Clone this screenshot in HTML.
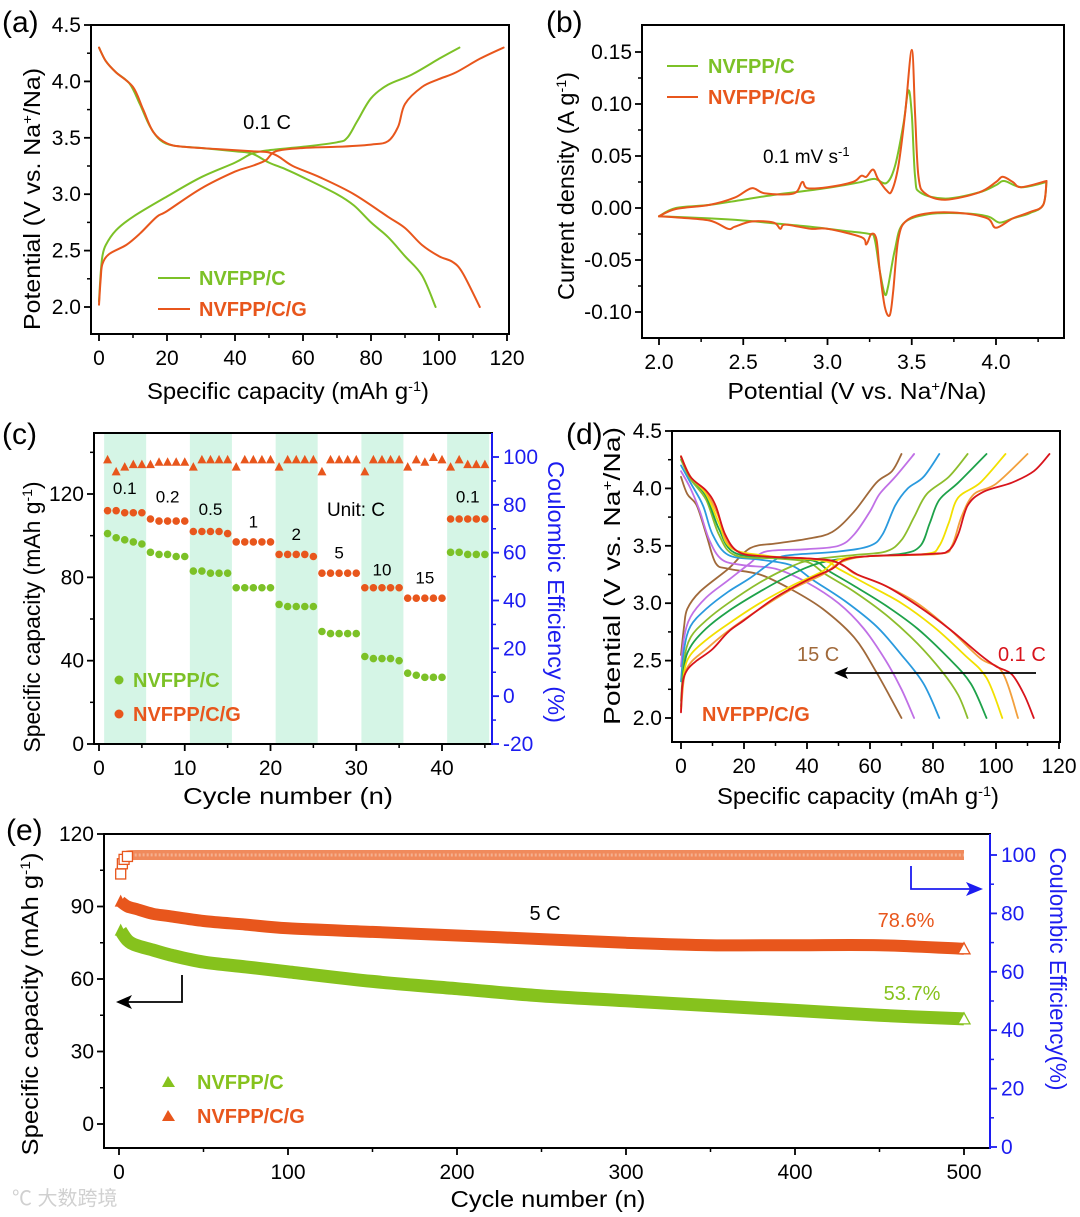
<!DOCTYPE html>
<html><head><meta charset="utf-8"><style>
html,body{margin:0;padding:0;background:#fff;}
svg{display:block;font-family:"Liberation Sans","Noto Sans CJK SC",sans-serif;}
</style></head><body>
<svg id="fig" width="1080" height="1217" viewBox="0 0 1080 1217" xmlns="http://www.w3.org/2000/svg"></svg>
<script>
// ---------- Panel (a) data ----------
const aGreenCharge=[[0,2.05],[0.5,2.3],[1,2.45],[2,2.55],[5,2.68],[10,2.8],[20,2.98],[30,3.15],[40,3.28],[45,3.36],[50,3.39],[60,3.42],[70,3.46],[73,3.5],[76,3.65],[80,3.85],[85,3.97],[92,4.06],[100,4.2],[106,4.3]];
const aGreenDis=[[0,4.3],[2,4.18],[5,4.08],[9,3.98],[12,3.8],[15,3.6],[18,3.48],[22,3.43],[30,3.41],[40,3.38],[45,3.36],[50,3.28],[55,3.22],[60,3.15],[70,3.0],[75,2.9],[80,2.75],[85,2.62],[90,2.45],[95,2.28],[99,2.0]];
const aOrangeCharge=[[0,2.02],[0.5,2.25],[1,2.38],[3,2.47],[8,2.55],[12,2.65],[17,2.8],[20,2.85],[30,3.05],[40,3.2],[45,3.25],[49,3.3],[52,3.38],[60,3.41],[70,3.42],[80,3.44],[85,3.47],[88,3.6],[90,3.8],[95,3.95],[100,4.02],[105,4.08],[112,4.2],[119,4.3]];
const aOrangeDis=[[0,4.3],[2,4.18],[5,4.08],[10,3.95],[13,3.75],[16,3.55],[20,3.45],[25,3.42],[35,3.4],[45,3.38],[50,3.37],[53,3.33],[57,3.25],[65,3.15],[75,3.0],[85,2.8],[90,2.7],[95,2.55],[100,2.45],[104,2.4],[107,2.3],[112,2.0]];
// ---------- Panel (b) data ----------
const bGreenUp=[[2.0,-0.008],[2.1,0.0],[2.3,0.003],[2.5,0.008],[2.7,0.013],[2.9,0.017],[3.1,0.022],[3.2,0.025],[3.28,0.028],[3.35,0.024],[3.4,0.04],[3.45,0.08],[3.48,0.113],[3.5,0.09],[3.52,0.03],[3.55,0.015],[3.7,0.009],[3.9,0.015],[4.0,0.022],[4.05,0.026],[4.15,0.02],[4.3,0.025]];
const bGreenDown=[[4.3,0.025],[4.28,0.003],[4.2,-0.005],[4.1,-0.01],[4.02,-0.014],[3.95,-0.008],[3.8,-0.005],[3.6,-0.006],[3.45,-0.015],[3.4,-0.04],[3.36,-0.075],[3.34,-0.083],[3.31,-0.06],[3.28,-0.03],[3.25,-0.025],[3.1,-0.022],[2.9,-0.018],[2.7,-0.015],[2.5,-0.012],[2.3,-0.01],[2.0,-0.008]];
const bOrangeUp=[[2.0,-0.008],[2.1,-0.001],[2.3,0.003],[2.45,0.01],[2.55,0.019],[2.63,0.014],[2.8,0.014],[2.85,0.025],[2.88,0.019],[3.0,0.02],[3.15,0.025],[3.2,0.031],[3.23,0.03],[3.27,0.037],[3.3,0.028],[3.35,0.017],[3.38,0.016],[3.42,0.04],[3.46,0.09],[3.5,0.152],[3.52,0.09],[3.54,0.03],[3.58,0.014],[3.7,0.008],[3.9,0.015],[4.0,0.025],[4.04,0.03],[4.1,0.025],[4.15,0.02],[4.3,0.026]];
const bOrangeDown=[[4.3,0.026],[4.28,0.003],[4.2,-0.004],[4.1,-0.01],[4.0,-0.019],[3.95,-0.01],[3.8,-0.005],[3.6,-0.005],[3.47,-0.012],[3.42,-0.03],[3.39,-0.08],[3.37,-0.103],[3.34,-0.095],[3.31,-0.06],[3.29,-0.03],[3.26,-0.025],[3.23,-0.035],[3.2,-0.028],[3.0,-0.02],[2.9,-0.02],[2.75,-0.016],[2.72,-0.02],[2.68,-0.014],[2.55,-0.013],[2.45,-0.018],[2.41,-0.02],[2.3,-0.012],[2.1,-0.009],[2.0,-0.008]];
// ---------- Panel (c) data ----------
const cCycles=[1,2,3,4,5,6,7,8,9,10,11,12,13,14,15,16,17,18,19,20,21,22,23,24,25,26,27,28,29,30,31,32,33,34,35,36,37,38,39,40,41,42,43,44,45];
const cGreen=[101,99,98,97,96,92,91,91,90,90,83,83,82,82,82,75,75,75,75,75,67,66,66,66,66,54,53,53,53,53,42,41,41,41,40,34,33,32,32,32,92,92,91,91,91];
const cOrange=[112,112,111,111,111,108,107,107,107,107,102,102,102,102,101,97,97,97,97,97,91,91,91,91,90,82,82,82,82,82,75,75,75,75,75,70,70,70,70,70,108,108,108,108,108];
const cCE=[99,94,96,97,97,97,98,98,98,98,96,99,99,99,99,96,99,99,99,99,96,99,99,99,99,94,99,99,99,99,94,99,99,99,99,96,99,98,100,99,96,99,97,97,97];
const cRateLabels=["0.1","0.2","0.5","1","2","5","10","15","0.1"];
const cRateCycles=[3,8,13,18,23,28,33,38,43];
const cRateValues=[120,116,110,104,98,89,81,77,116];
// ---------- Panel (d) data ----------
const dRates=["0.1","0.2","0.5","1","2","5","10","15"];
const dCharge=[
[[0,2.05],[0.5,2.3],[2,2.42],[5,2.5],[10,2.6],[15,2.75],[20,2.85],[30,3.05],[40,3.2],[48,3.3],[52,3.38],[60,3.41],[80,3.43],[85,3.46],[88,3.6],[91,3.85],[96,3.97],[105,4.05],[112,4.15],[117,4.3]],
[[0,2.06],[1,2.35],[3,2.48],[8,2.6],[15,2.76],[25,2.95],[35,3.12],[45,3.25],[51,3.36],[60,3.41],[82,3.43],[86,3.5],[89,3.75],[93,3.95],[100,4.04],[110,4.3]],
[[0,2.08],[1,2.4],[3,2.55],[8,2.68],[15,2.82],[25,3.0],[35,3.15],[45,3.28],[50,3.38],[60,3.41],[78,3.43],[82,3.5],[85,3.7],[88,3.92],[95,4.05],[103,4.3]],
[[0,2.1],[1,2.45],[3,2.62],[8,2.78],[15,2.93],[25,3.1],[35,3.25],[44,3.35],[55,3.4],[70,3.43],[76,3.5],[79,3.7],[82,3.9],[88,4.05],[97,4.3]],
[[0,2.15],[1,2.5],[3,2.7],[8,2.85],[15,3.0],[25,3.18],[35,3.32],[42,3.38],[55,3.42],[65,3.45],[70,3.55],[74,3.75],[78,3.95],[85,4.1],[91,4.3]],
[[0,2.32],[1,2.6],[3,2.8],[8,2.95],[15,3.1],[22,3.22],[30,3.38],[35,3.42],[50,3.45],[60,3.5],[64,3.6],[68,3.85],[72,4.0],[77,4.1],[82,4.3]],
[[0,2.45],[1,2.7],[3,2.88],[8,3.05],[15,3.2],[22,3.35],[27,3.45],[40,3.47],[50,3.5],[55,3.6],[60,3.8],[63,3.95],[68,4.1],[74,4.3]],
[[0,2.55],[1,2.8],[2,2.95],[6,3.1],[15,3.3],[22,3.48],[30,3.52],[40,3.56],[48,3.62],[55,3.8],[62,4.05],[67,4.15],[70,4.3]]];
const dDischarge=[
[[0,4.28],[3,4.1],[8,3.98],[11,3.85],[14,3.6],[18,3.45],[25,3.41],[40,3.39],[48,3.37],[52,3.32],[56,3.25],[65,3.15],[75,2.98],[85,2.78],[95,2.55],[100,2.45],[105,2.38],[109,2.2],[112,2.0]],
[[0,4.28],[3,4.1],[8,3.97],[12,3.75],[15,3.52],[22,3.42],[40,3.39],[50,3.35],[55,3.26],[65,3.15],[75,3.0],[85,2.78],[95,2.52],[102,2.4],[107,2.0]],
[[0,4.28],[3,4.1],[8,3.95],[12,3.7],[16,3.48],[28,3.41],[45,3.37],[50,3.3],[58,3.18],[70,3.0],[80,2.8],[90,2.55],[97,2.35],[102,2.0]],
[[0,4.27],[3,4.1],[8,3.93],[12,3.65],[17,3.44],[30,3.4],[42,3.37],[47,3.28],[55,3.15],[65,2.98],[75,2.78],[85,2.52],[92,2.3],[97,2.0]],
[[0,4.25],[3,4.08],[8,3.9],[12,3.6],[17,3.42],[30,3.39],[40,3.36],[46,3.25],[55,3.1],[65,2.9],[75,2.65],[83,2.4],[88,2.2],[91,2.0]],
[[0,4.2],[3,4.05],[7,3.85],[10,3.6],[15,3.42],[25,3.38],[35,3.33],[42,3.2],[52,3.02],[62,2.8],[70,2.55],[77,2.3],[82,2.0]],
[[0,4.15],[3,4.0],[6,3.8],[9,3.55],[13,3.38],[20,3.33],[30,3.3],[40,3.18],[50,3.0],[58,2.78],[65,2.5],[70,2.25],[74,2.0]],
[[0,4.1],[2,3.95],[5,3.85],[8,3.6],[11,3.35],[15,3.3],[25,3.25],[35,3.12],[45,2.95],[55,2.7],[62,2.4],[70,2.0]]];
const dColors=["#d8141c","#f2a03c","#f2e000","#1ea24a","#8dbd2c","#2a9ade","#c070e6","#a0693a"];
// ---------- Panel (e) data ----------
const eCycles=[1,5,10,20,30,50,75,100,150,200,250,300,350,400,450,500];
const eGreen=[80,76,74,72,70,67,65,63,59,56,53,51,49,47,45,43.5];
const eOrange=[92,90,89,87,86,84,82.5,81,79.5,78,76.5,75,74,74,74,72.5];
const eCECycles=[1,2,3,5,10,50,100,200,300,400,500];
const eCE=[93.5,97,98.5,99.5,100,100,100,100,100,100,100];

const NS="http://www.w3.org/2000/svg";
const svg=document.getElementById('fig');
function el(tag,a,name,inter){
  const e=document.createElementNS(NS,tag);
  for(const k in a) e.setAttribute(k,a[k]);
  
  
  svg.appendChild(e);return e;
}
function lin(d0,d1,r0,r1){return v=>r0+(v-d0)*(r1-r0)/(d1-d0);}
function txt(x,y,s,o,name){
  const e=el('text',{x:x,y:y,'font-size':o.fs||20,fill:o.fill||'#000','text-anchor':o.anchor||'start','font-weight':o.bold?'bold':'normal'},name);
  if(o.rot) e.setAttribute('transform','rotate('+o.rot+' '+x+' '+y+')');
  if(o.len){e.setAttribute('textLength',o.len);e.setAttribute('lengthAdjust','spacingAndGlyphs');}
  e.innerHTML=s;return e;
}
function smooth(pts){
  let d='M'+pts[0][0].toFixed(1)+','+pts[0][1].toFixed(1);
  for(let i=0;i<pts.length-1;i++){
    const p0=pts[i-1]||pts[i],p1=pts[i],p2=pts[i+1],p3=pts[i+2]||p2;
    const c1=[p1[0]+(p2[0]-p0[0])/6,p1[1]+(p2[1]-p0[1])/6],c2=[p2[0]-(p3[0]-p1[0])/6,p2[1]-(p3[1]-p1[1])/6];
    d+=' C'+c1[0].toFixed(1)+','+c1[1].toFixed(1)+' '+c2[0].toFixed(1)+','+c2[1].toFixed(1)+' '+p2[0].toFixed(1)+','+p2[1].toFixed(1);
  }
  return d;
}
function curve(data,sx,sy,color,w,name){
  return el('path',{d:smooth(data.map(p=>[sx(p[0]),sy(p[1])])),fill:'none',stroke:color,'stroke-width':w,'stroke-linejoin':'round','stroke-linecap':'round'},name);
}
function frame(x0,y0,x1,y1,name){el('rect',{x:x0,y:y0,width:x1-x0,height:y1-y0,fill:'none',stroke:'#000','stroke-width':2},name);}
function xAxis(sx,yb,major,minor,labels,name){
  minor.forEach(v=>el('line',{x1:sx(v),y1:yb,x2:sx(v),y2:yb+4,stroke:'#000','stroke-width':1.5},name+'-minor-tick'));
  major.forEach((v,i)=>{el('line',{x1:sx(v),y1:yb,x2:sx(v),y2:yb+7,stroke:'#000','stroke-width':1.8},name+'-tick');
    txt(sx(v),yb+31,labels[i],{anchor:'middle',fs:21},name+'-tick-label');});
}
function yAxis(sy,xl,major,minor,labels,name,color,right){
  const c=color||'#000',s=right?1:-1;
  minor.forEach(v=>el('line',{x1:xl,y1:sy(v),x2:xl+s*4,y2:sy(v),stroke:c,'stroke-width':1.5},name+'-minor-tick'));
  major.forEach((v,i)=>{el('line',{x1:xl,y1:sy(v),x2:xl+s*7,y2:sy(v),stroke:c,'stroke-width':1.8},name+'-tick');
    txt(right?xl+11:xl-10,sy(v)+7,labels[i],{anchor:right?'start':'end',fs:21,fill:c},name+'-tick-label');});
}
function rng(a,b,s){const r=[];for(let v=a;v<=b+1e-9;v+=s)r.push(+v.toFixed(4));return r;}
const GREEN='#7cc127',ORANGE='#e8561c',BLUE='#1c1cf0';

// ================= Panel (a) =================
{
const sx=lin(0,120,99,507),sy=lin(2,4.5,307,25);
curve(aGreenCharge,sx,sy,GREEN,2,'a-nvfpp-c-charge');
curve(aGreenDis,sx,sy,GREEN,2,'a-nvfpp-c-discharge');
curve(aOrangeCharge,sx,sy,ORANGE,2,'a-nvfpp-c-g-charge');
curve(aOrangeDis,sx,sy,ORANGE,2,'a-nvfpp-c-g-discharge');
frame(91,25,509,334,'a-plot-frame');
xAxis(sx,334,rng(0,120,20),rng(10,110,20),['0','20','40','60','80','100','120'],'a-x-axis');
yAxis(sy,91,rng(2,4.5,0.5),rng(2.25,4.25,0.5),['2.0','2.5','3.0','3.5','4.0','4.5'],'a-y-axis');
txt(2,32,'(a)',{fs:30},'panel-label-a');
txt(288,399,'Specific capacity (mAh g<tspan baseline-shift="super" font-size="14">-1</tspan>)',{anchor:'middle',fs:23,len:282},'a-x-axis-title');
txt(40,199,'Potential (V vs. Na<tspan baseline-shift="super" font-size="14">+</tspan>/Na)',{anchor:'middle',fs:23,rot:-90,len:262},'a-y-axis-title');
txt(267,129,'0.1 C',{anchor:'middle',fs:20},'a-rate-annotation');
el('line',{x1:158,y1:278,x2:190,y2:278,stroke:GREEN,'stroke-width':2},'a-legend-line-nvfpp-c');
txt(199,285,'NVFPP/C',{fs:20,bold:1,fill:GREEN},'a-legend-label-nvfpp-c');
el('line',{x1:158,y1:309,x2:190,y2:309,stroke:ORANGE,'stroke-width':2},'a-legend-line-nvfpp-c-g');
txt(199,316,'NVFPP/C/G',{fs:20,bold:1,fill:ORANGE},'a-legend-label-nvfpp-c-g');
}
// ================= Panel (b) =================
{
const sx=lin(2,4,659,996),sy=lin(-0.1,0.15,312,52);
curve(bGreenUp,sx,sy,GREEN,2,'b-nvfpp-c-anodic');
curve(bGreenDown,sx,sy,GREEN,2,'b-nvfpp-c-cathodic');
curve(bOrangeUp,sx,sy,ORANGE,2,'b-nvfpp-c-g-anodic');
curve(bOrangeDown,sx,sy,ORANGE,2,'b-nvfpp-c-g-cathodic');
frame(642,25,1064,338,'b-plot-frame');
xAxis(sx,338,rng(2,4,0.5),rng(2.25,4.25,0.25).filter((v,i)=>i%2==0),['2.0','2.5','3.0','3.5','4.0'],'b-x-axis');
yAxis(sy,642,rng(-0.1,0.15,0.05),rng(-0.075,0.125,0.05),['-0.10','-0.05','0.00','0.05','0.10','0.15'],'b-y-axis');
txt(546,32,'(b)',{fs:30},'panel-label-b');
txt(857,399,'Potential (V vs. Na<tspan baseline-shift="super" font-size="14">+</tspan>/Na)',{anchor:'middle',fs:23,len:259},'b-x-axis-title');
txt(574,186,'Current density (A g<tspan baseline-shift="super" font-size="14">-1</tspan>)',{anchor:'middle',fs:23,rot:-90,len:228},'b-y-axis-title');
txt(763,163,'0.1 mV s<tspan baseline-shift="super" font-size="13">-1</tspan>',{fs:19},'b-scan-rate-annotation');
el('line',{x1:667,y1:66,x2:698,y2:66,stroke:GREEN,'stroke-width':2},'b-legend-line-nvfpp-c');
txt(708,73,'NVFPP/C',{fs:20,bold:1,fill:GREEN},'b-legend-label-nvfpp-c');
el('line',{x1:667,y1:97,x2:698,y2:97,stroke:ORANGE,'stroke-width':2},'b-legend-line-nvfpp-c-g');
txt(708,104,'NVFPP/C/G',{fs:20,bold:1,fill:ORANGE},'b-legend-label-nvfpp-c-g');
}
// ================= Panel (c) =================
{
const sx=lin(0,40,99,442),syL=lin(0,120,744,494),syR=lin(-20,100,744,457);
[0,10,20,30,40].forEach(s=>{const x0=sx(s+0.6),x1=Math.min(sx(s+5.5),491);
  el('rect',{x:x0,y:434,width:x1-x0,height:309,fill:'#d5f5e6'},'c-rate-band');});
cCycles.forEach((c,i)=>{
  el('circle',{cx:sx(c),cy:syL(cGreen[i]),r:3.8,fill:GREEN},'c-nvfpp-c-point');
  el('circle',{cx:sx(c),cy:syL(cOrange[i]),r:3.8,fill:ORANGE},'c-nvfpp-c-g-point');
  const x=sx(c),y=syR(cCE[i]);
  el('polygon',{points:(x-4.5)+','+(y+4)+' '+(x+4.5)+','+(y+4)+' '+x+','+(y-4.5),fill:ORANGE},'c-coulombic-efficiency-point');
});
cRateLabels.forEach((l,i)=>txt(sx(cRateCycles[i]),syL(cRateValues[i]),l,{anchor:'middle',fs:17},'c-rate-label'));
txt(356,516,'Unit: C',{anchor:'middle',fs:19},'c-unit-label');
frame(94,433,492,744,'c-plot-frame');
el('line',{x1:492,y1:433,x2:492,y2:745,stroke:BLUE,'stroke-width':2},'c-right-axis-line');
xAxis(sx,744,rng(0,40,10),rng(5,45,10),['0','10','20','30','40'],'c-x-axis');
yAxis(syL,94,rng(0,120,40),rng(20,140,40),['0','40','80','120'],'c-left-y-axis');
yAxis(syR,492,rng(-20,100,20),rng(-10,90,20),['-20','0','20','40','60','80','100'],'c-right-y-axis',BLUE,true);
txt(2,444,'(c)',{fs:30},'panel-label-c');
txt(288,804,'Cycle number (n)',{anchor:'middle',fs:23,len:210},'c-x-axis-title');
txt(40,617,'Specific capacity (mAh g<tspan baseline-shift="super" font-size="14">-1</tspan>)',{anchor:'middle',fs:23,rot:-90,len:271},'c-left-y-axis-title');
txt(548,592,'Coulombic Efficiency (%)',{anchor:'middle',fs:23,rot:90,fill:BLUE,len:262},'c-right-y-axis-title');
el('circle',{cx:119,cy:680,r:4.5,fill:GREEN},'c-legend-marker-nvfpp-c');
txt(133,687,'NVFPP/C',{fs:20,bold:1,fill:GREEN},'c-legend-label-nvfpp-c');
el('circle',{cx:119,cy:714,r:4.5,fill:ORANGE},'c-legend-marker-nvfpp-c-g');
txt(133,721,'NVFPP/C/G',{fs:20,bold:1,fill:ORANGE},'c-legend-label-nvfpp-c-g');
}
// ================= Panel (d) =================
{
const sx=lin(0,120,681,1059),sy=lin(2,4.5,718,431);
for(let i=dRates.length-1;i>=0;i--){
  curve(dCharge[i],sx,sy,dColors[i],1.8,'d-charge-curve-'+dRates[i]+'c');
  curve(dDischarge[i],sx,sy,dColors[i],1.8,'d-discharge-curve-'+dRates[i]+'c');
}
frame(672,431,1060,742,'d-plot-frame');
xAxis(sx,742,rng(0,120,20),rng(10,110,20),['0','20','40','60','80','100','120'],'d-x-axis');
yAxis(sy,672,rng(2,4.5,0.5),rng(2.25,4.25,0.5),['2.0','2.5','3.0','3.5','4.0','4.5'],'d-y-axis');
txt(566,444,'(d)',{fs:30},'panel-label-d');
txt(858,804,'Specific capacity (mAh g<tspan baseline-shift="super" font-size="14">-1</tspan>)',{anchor:'middle',fs:23,len:282},'d-x-axis-title');
txt(620,576,'Potential (V vs. Na<tspan baseline-shift="super" font-size="14">+</tspan>/Na)',{anchor:'middle',fs:23,rot:-90,len:298},'d-y-axis-title');
txt(998,661,'0.1 C',{fs:20,fill:'#d8141c'},'d-label-0.1c');
txt(797,661,'15 C',{fs:20,fill:'#a0693a'},'d-label-15c');
el('line',{x1:1036,y1:673,x2:842,y2:673,stroke:'#000','stroke-width':1.8},'d-rate-arrow-line');
el('polygon',{points:'834,673 848,667 845,673 848,679',fill:'#000'},'d-rate-arrow-head');
txt(702,721,'NVFPP/C/G',{fs:20,bold:1,fill:ORANGE},'d-sample-label');
}
// ================= Panel (e) =================
{
const sx=lin(0,500,119,964),syL=lin(0,120,1124,834),syR=lin(0,100,1147,855);
el('path',{d:smooth(eCECycles.map((c,i)=>[sx(c),syR(eCE[i])])),fill:'none',stroke:'#f08a5c','stroke-width':10,'stroke-linecap':'butt'},'e-coulombic-efficiency-band');
el('path',{d:smooth(eCECycles.map((c,i)=>[sx(c),syR(eCE[i])])),fill:'none',stroke:'#f4b090','stroke-width':3,'stroke-dasharray':'2 2'},'e-coulombic-efficiency-texture');
eCECycles.slice(0,4).forEach((c,i)=>el('rect',{x:sx(c)-5,y:syR(eCE[i])-5,width:10,height:10,fill:'#fff',stroke:ORANGE,'stroke-width':1.3},'e-coulombic-efficiency-point'));
el('path',{d:smooth(eCycles.map((c,i)=>[sx(c),syL(eOrange[i])])),fill:'none',stroke:'#e8561c','stroke-width':12},'e-nvfpp-c-g-capacity-band');
el('path',{d:smooth(eCycles.map((c,i)=>[sx(c),syL(eGreen[i])])),fill:'none',stroke:'#86c21d','stroke-width':13},'e-nvfpp-c-capacity-band');
[[eOrange,ORANGE,'e-nvfpp-c-g-first-point'],[eGreen,'#86c21d','e-nvfpp-c-first-point']].forEach(s=>{
  const x=sx(eCycles[0]),y=syL(s[0][0]);
  el('polygon',{points:(x-6)+','+(y+5)+' '+(x+6)+','+(y+5)+' '+x+','+(y-7),fill:s[1]},s[2]);});
[[eOrange,ORANGE,'e-nvfpp-c-g-last-point'],[eGreen,'#86c21d','e-nvfpp-c-last-point']].forEach(s=>{
  const x=sx(eCycles[eCycles.length-1]),y=syL(s[0][s[0].length-1]);
  el('polygon',{points:(x-6)+','+(y+5)+' '+(x+6)+','+(y+5)+' '+x+','+(y-6),fill:'#fff',stroke:s[1],'stroke-width':1.3},s[2]);});
frame(104,834,990,1148,'e-plot-frame');
el('line',{x1:990,y1:834,x2:990,y2:1149,stroke:BLUE,'stroke-width':2},'e-right-axis-line');
xAxis(sx,1148,rng(0,500,100),rng(50,450,100),['0','100','200','300','400','500'],'e-x-axis');
yAxis(syL,104,rng(0,120,30),rng(15,105,30),['0','30','60','90','120'],'e-left-y-axis');
yAxis(syR,990,rng(0,100,20),rng(10,90,20),['0','20','40','60','80','100'],'e-right-y-axis',BLUE,true);
txt(6,840,'(e)',{fs:30},'panel-label-e');
txt(548,1207,'Cycle number (n)',{anchor:'middle',fs:23,len:195},'e-x-axis-title');
txt(38,1004,'Specific capacity (mAh g<tspan baseline-shift="super" font-size="14">-1</tspan>)',{anchor:'middle',fs:23,rot:-90,len:303},'e-left-y-axis-title');
txt(1050,969,'Coulombic Efficiency(%)',{anchor:'middle',fs:23,rot:90,fill:BLUE,len:243},'e-right-y-axis-title');
txt(545,920,'5 C',{anchor:'middle',fs:20},'e-rate-annotation');
txt(906,927,'78.6%',{anchor:'middle',fs:20,fill:ORANGE},'e-retention-nvfpp-c-g');
txt(912,1000,'53.7%',{anchor:'middle',fs:20,fill:'#86c21d'},'e-retention-nvfpp-c');
el('polyline',{points:'182,975 182,1002 128,1002',fill:'none',stroke:'#000','stroke-width':1.8},'e-left-axis-arrow-line');
el('polygon',{points:'116,1002 132,995 128,1002 132,1009',fill:'#000'},'e-left-axis-arrow-head');
el('polyline',{points:'911,866 911,889 970,889',fill:'none',stroke:BLUE,'stroke-width':1.8},'e-right-axis-arrow-line');
el('polygon',{points:'983,889 966,882 970,889 966,896',fill:BLUE},'e-right-axis-arrow-head');
el('polygon',{points:'162,1087 175,1087 168,1076',fill:'#86c21d'},'e-legend-marker-nvfpp-c');
txt(197,1089,'NVFPP/C',{fs:20,bold:1,fill:'#86c21d'},'e-legend-label-nvfpp-c');
el('polygon',{points:'162,1121 175,1121 168,1110',fill:ORANGE},'e-legend-marker-nvfpp-c-g');
txt(197,1123,'NVFPP/C/G',{fs:20,bold:1,fill:ORANGE},'e-legend-label-nvfpp-c-g');
txt(12,1205,'℃ 大数跨境',{fs:20,fill:'#d0d0d0'},'watermark');
}
</script>
</body></html>
